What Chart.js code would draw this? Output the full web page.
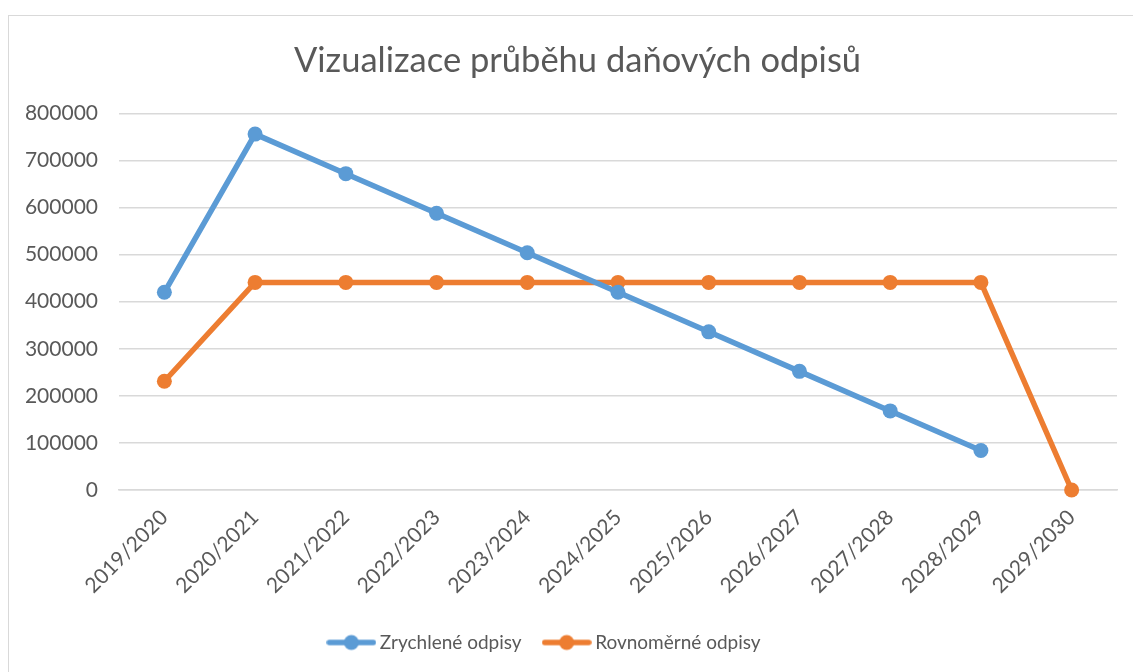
<!DOCTYPE html>
<html>
<head>
<meta charset="utf-8">
<script src="https://cdn.jsdelivr.net/npm/chart.js@4/dist/chart.umd.min.js"></script>
<style>
  html, body { margin: 0; padding: 0; background: #fff; }
  #wrap { position: relative; width: 1133px; height: 672px; overflow: hidden; }
  #frame { position: absolute; left: 8px; top: 15px; width: 1140px; height: 680px; border: 1.5px solid #d9d9d9; box-sizing: border-box; }
  canvas { position: absolute; left: 0; top: 0; }
</style>
</head>
<body>
<div id="wrap">
  <div id="frame"></div>
  <canvas id="chart" width="1133" height="672"></canvas>
</div>
<script>
// data
const years = ['2019/2020', '2020/2021', '2021/2022', '2022/2023', '2023/2024', '2024/2025',
               '2025/2026', '2026/2027', '2027/2028', '2028/2029', '2029/2030'];
const zrychlene = [420000, 756000, 672000, 588000, 504000, 420000, 336000, 252000, 168000, 84000, null];
const rovnomerne = [231000, 441000, 441000, 441000, 441000, 441000, 441000, 441000, 441000, 441000, 0];
const yTicks = [0, 100000, 200000, 300000, 400000, 500000, 600000, 700000, 800000];

const textColor = '#595959';
const gridColor = '#d9d9d9';
const font = 'Lato, "Open Sans", sans-serif';

// legend marker: line with a dot, like excel
function legendMarker(color) {
    let c = document.createElement('canvas');
    c.width = 50;
    c.height = 18;
    let g = c.getContext('2d');
    g.strokeStyle = color;
    g.lineWidth = 5.5;
    g.lineCap = 'round';
    g.beginPath();
    g.moveTo(3, 9);
    g.lineTo(47, 9);
    g.stroke();
    g.fillStyle = color;
    g.beginPath();
    g.arc(25, 9, 7.5, 0, Math.PI * 2);
    g.fill();
    return c;
}

// nudge title and legend sideways, excel centres them differently
const nudge = {
    id: 'nudge',
    afterLayout(chart) {
        chart.titleBlock.left += 19;
        chart.titleBlock.right += 19;
        chart.legend.left -= 12;
        chart.legend.right -= 12;
    }
};

let ctx = document.getElementById('chart').getContext('2d');
let myChart = new Chart(ctx, {
    type: 'line',
    data: {
        labels: years,
        datasets: [{
            label: 'Zrychlené odpisy',
            data: zrychlene,
            borderColor: '#5b9bd5',
            backgroundColor: '#5b9bd5',
            borderWidth: 5.5,
            pointRadius: 7.5,
            pointHoverRadius: 7.5,
            pointBorderWidth: 0,
            tension: 0,
            clip: false,
            marker: legendMarker('#5b9bd5')
        },
        {
            label: 'Rovnoměrné odpisy',
            data: rovnomerne,
            borderColor: '#ed7d31',
            backgroundColor: '#ed7d31',
            borderWidth: 5.5,
            pointRadius: 7.5,
            pointHoverRadius: 7.5,
            pointBorderWidth: 0,
            tension: 0,
            clip: false,
            marker: legendMarker('#ed7d31')
        }]
    },
    plugins: [nudge],
    options: {
        responsive: false,
        animation: false,
        events: [],
        layout: {
            padding: { left: 0, right: 16, top: 0, bottom: 10 }
        },
        scales: {
            x: {
                offset: true,
                grid: { display: false, drawTicks: false },
                border: { display: true, color: gridColor, width: 1.5 },
                ticks: {
                    color: textColor,
                    font: { family: font, size: 21 },
                    maxRotation: 45,
                    minRotation: 45,
                    padding: 15,
                    autoSkip: false
                },
                afterFit: (scale) => { scale.height = 117; }
            },
            y: {
                min: 0,
                max: 800000,
                afterBuildTicks: (scale) => { scale.ticks = yTicks.map(v => ({ value: v })); },
                grid: { color: gridColor, lineWidth: 1.5, drawTicks: false },
                border: { display: false },
                ticks: {
                    color: textColor,
                    font: { family: font, size: 21 },
                    padding: 21,
                    callback: (v) => String(v)
                },
                afterFit: (scale) => { scale.width = 119; }
            }
        },
        plugins: {
            title: {
                display: true,
                text: 'Vizualizace průběhu daňových odpisů',
                color: textColor,
                font: { family: font, size: 34.5, weight: 'normal' },
                padding: { top: 40, bottom: 32 }
            },
            legend: {
                position: 'bottom',
                labels: {
                    color: textColor,
                    font: { family: font, size: 19 },
                    usePointStyle: true,
                    pointStyleWidth: 38,
                    padding: 26,
                    generateLabels: (chart) => chart.data.datasets.map((ds, i) => ({
                        text: ds.label,
                        pointStyle: ds.marker,
                        fillStyle: ds.borderColor,
                        strokeStyle: ds.borderColor,
                        fontColor: textColor,
                        lineWidth: 0,
                        datasetIndex: i
                    }))
                }
            },
            tooltip: { enabled: false }
        }
    }
});
</script>
</body>
</html>
